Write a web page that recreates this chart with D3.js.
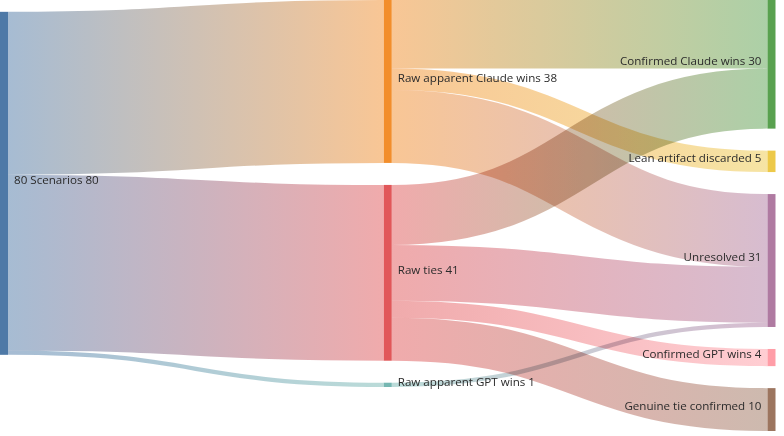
<!DOCTYPE html>
<meta charset="utf-8">
<script src="https://cdn.jsdelivr.net/npm/d3@7"></script>

<style>
    body {margin: 0; background: #fff;}
    #chart-container-sankey text {
        font-family: "Open Sans", sans-serif;
        font-size: 11.6px;
        fill: #2b2b2b;
    }
</style>

<div id="chart-container-sankey"></div>

<script>

    // nodes, in column order
    let nodeNames = [
        "80 Scenarios",
        "Raw apparent Claude wins",
        "Raw ties",
        "Raw apparent GPT wins",
        "Confirmed Claude wins",
        "Lean artifact discarded",
        "Unresolved",
        "Confirmed GPT wins",
        "Genuine tie confirmed"
    ];
    let nodeColumns = [0, 1, 1, 1, 2, 2, 2, 2, 2];

    // links
    let linkSources = [0, 0, 0, 1, 1, 1, 2, 2, 2, 2, 3];
    let linkTargets = [1, 2, 3, 4, 5, 6, 4, 6, 7, 8, 6];
    let linkValues  = [38, 41, 1, 16, 5, 17, 14, 13, 4, 10, 1];

    let width = 784, height = 436;
    let extent = {x0: 0, y0: 0, x1: 775.5, y1: 431};
    let nodeWidth = 8, nodePadding = 22;

    let color = d3.scaleOrdinal(d3.schemeTableau10).domain(nodeNames);

    let nodes = nodeNames.map((name, i) => ({name: name, index: i, column: nodeColumns[i], sourceLinks: [], targetLinks: []}));
    let links = linkValues.map((v, i) => ({source: nodes[linkSources[i]], target: nodes[linkTargets[i]], value: v, index: i}));
    links.forEach(l => { l.source.sourceLinks.push(l); l.target.targetLinks.push(l); });
    nodes.forEach(n => {
        n.value = Math.max(d3.sum(n.sourceLinks, l => l.value), d3.sum(n.targetLinks, l => l.value));
    });

    let columns = d3.groups(nodes, d => d.column).map(g => g[1]);

    let x = d3.scaleLinear()
        .domain([0, columns.length - 1])
        .range([extent.x0, extent.x1 - nodeWidth]);

    let ky = d3.min(columns, c => (extent.y1 - extent.y0 - (c.length - 1) * nodePadding) / d3.sum(c, d => d.value));
    let y = d3.scaleLinear().domain([0, 1]).range([0, ky]);

    nodes.forEach(n => { n.x0 = x(n.column); n.x1 = n.x0 + nodeWidth; });

    // stack the later columns from the top
    columns.slice(1).forEach(c => {
        let top = extent.y0;
        c.forEach(n => { n.y0 = top; n.y1 = top + y(n.value); top = n.y1 + nodePadding; });
    });

    // source column sits at the weighted centre of its targets
    columns[0].forEach(n => {
        let mid = d3.sum(n.sourceLinks, l => l.value * (l.target.y0 + l.target.y1) / 2) / n.value;
        n.y0 = mid - y(n.value) / 2;
        n.y1 = n.y0 + y(n.value);
    });

    // link breadths
    nodes.forEach(n => {
        n.sourceLinks.sort((a, b) => a.target.y0 - b.target.y0);
        n.targetLinks.sort((a, b) => a.source.y0 - b.source.y0);
        let sy = n.y0, ty = n.y0;
        n.sourceLinks.forEach(l => { l.width = y(l.value); l.y0 = sy + l.width / 2; sy += l.width; });
        n.targetLinks.forEach(l => { l.y1 = ty + y(l.value) / 2; ty += y(l.value); });
    });

    let svg = d3.select("#chart-container-sankey")
        .append("svg")
        .attr("width", width)
        .attr("height", height)
        .attr("viewBox", [0, 0, width, height]);

    let defs = svg.append("defs");

    let grad = defs.selectAll("linearGradient")
        .data(links)
        .enter().append("linearGradient")
        .attr("id", d => "link-grad-" + d.index)
        .attr("gradientUnits", "userSpaceOnUse")
        .attr("x1", d => d.source.x1)
        .attr("x2", d => d.target.x0);
    grad.append("stop").attr("offset", "0%").attr("stop-color", d => color(d.source.name));
    grad.append("stop").attr("offset", "100%").attr("stop-color", d => color(d.target.name));

    let linkPath = d3.linkHorizontal()
        .source(d => [d.source.x1, d.y0])
        .target(d => [d.target.x0, d.y1]);

    svg.append("g")
        .attr("fill", "none")
        .attr("stroke-opacity", 0.5)
        .selectAll("path")
        .data(links)
        .enter().append("path")
        .attr("d", linkPath)
        .attr("stroke", d => "url(#link-grad-" + d.index + ")")
        .attr("stroke-width", d => Math.max(1, d.width))
        .style("mix-blend-mode", "multiply");

    svg.append("g")
        .selectAll("rect")
        .data(nodes)
        .enter().append("rect")
        .attr("x", d => d.x0)
        .attr("y", d => d.y0)
        .attr("width", d => d.x1 - d.x0)
        .attr("height", d => d.y1 - d.y0)
        .attr("fill", d => color(d.name));

    svg.append("g")
        .selectAll("text")
        .data(nodes)
        .enter().append("text")
        .attr("x", d => d.column === columns.length - 1 ? d.x0 - 6 : d.x1 + 6)
        .attr("y", d => (d.y0 + d.y1) / 2)
        .attr("dy", "0.06em")
        .attr("text-anchor", d => d.column === columns.length - 1 ? "end" : "start")
        .text(d => d.name + " " + d.value);

</script>
